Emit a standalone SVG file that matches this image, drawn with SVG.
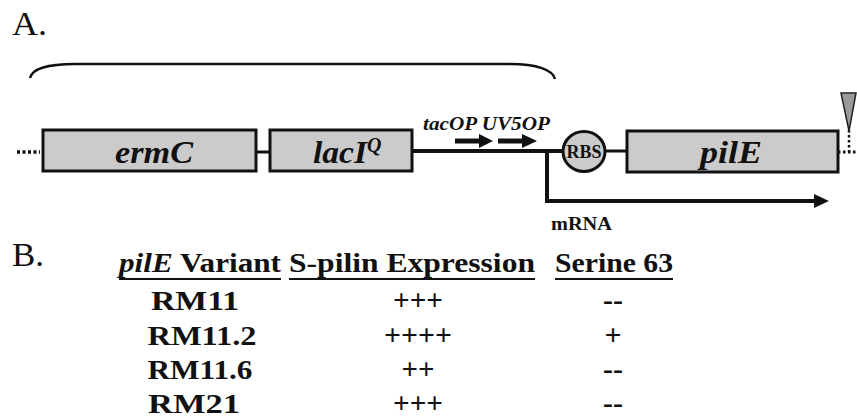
<svg xmlns="http://www.w3.org/2000/svg" width="857" height="418" viewBox="0 0 857 418" font-family="'Liberation Serif', 'Times New Roman', Times, serif">
<style>
text { font-family: "Liberation Serif", "Times New Roman", Times, serif; fill: #111; }
.lbl { font-size: 33px; }
.gene { font-size: 31px; font-weight: bold; font-style: italic; }
.box { fill: #cbcbcb; stroke: #111; stroke-width: 3; }
.wire { stroke: #111; fill: none; }
.hdr { font-size: 27px; font-weight: bold; }
.cell { font-size: 27px; font-weight: bold; text-anchor: middle; }
.pl { font-size: 30px; font-weight: bold; text-anchor: middle; }
.ul { stroke: #111; stroke-width: 2; }
</style>
<rect width="857" height="418" fill="#fff"/>

<text class="lbl" x="12" y="35" textLength="35" lengthAdjust="spacingAndGlyphs">A.</text>

<g id="connectors">
  <path class="wire" stroke-width="2.5" d="M30,78 C32,69 48,64 75,64 L510,64 C537,64 553,70 555,79"/>
  <line class="wire" x1="17" y1="152" x2="40" y2="152" stroke-width="3.5" stroke-dasharray="3,2.5"/>
  <line class="wire" x1="256" y1="152" x2="270" y2="152" stroke-width="3"/>
  <line class="wire" x1="412" y1="151" x2="564" y2="151" stroke-width="4"/>
  <line class="wire" x1="604" y1="151" x2="627" y2="151" stroke-width="3"/>
  <polyline class="wire" points="547,151 547,201 816,201" stroke-width="4"/>
  <polygon points="814,194 829,201 814,208" fill="#111"/>
  <line class="wire" x1="838" y1="152" x2="857" y2="152" stroke-width="3" stroke-dasharray="2.5,2.5"/>
  <line class="wire" x1="849" y1="130" x2="849" y2="152" stroke-width="2.5" stroke-dasharray="2.5,2.5"/>
  <line class="wire" x1="455" y1="141" x2="482" y2="141" stroke-width="5"/>
  <polygon points="479,134 493,141 479,148" fill="#111"/>
  <line class="wire" x1="498" y1="141" x2="525" y2="141" stroke-width="5"/>
  <polygon points="522,134 537,141 522,148" fill="#111"/>
</g>

<g id="ermC">
  <rect class="box" x="43" y="130" width="213" height="41"/>
  <text class="gene" x="154" y="163" text-anchor="middle" textLength="78" lengthAdjust="spacingAndGlyphs">ermC</text>
</g>

<g id="lacIQ">
  <rect class="box" x="270" y="130" width="142" height="41"/>
  <text class="gene" x="313" y="163"><tspan textLength="54" lengthAdjust="spacingAndGlyphs">lacI</tspan><tspan font-size="20" dy="-11">Q</tspan></text>
</g>

<g id="promoters">
  <text x="423" y="130" font-size="18" font-weight="bold" font-style="italic" textLength="127" lengthAdjust="spacingAndGlyphs">tacOP UV5OP</text>
</g>

<g id="RBS">
  <ellipse cx="584" cy="151.5" rx="21" ry="20" fill="#cbcbcb" stroke="#111" stroke-width="3"/>
  <text x="584" y="158" font-size="18" font-weight="bold" text-anchor="middle" textLength="35" lengthAdjust="spacingAndGlyphs">RBS</text>
</g>

<g id="pilE">
  <rect class="box" x="627" y="131" width="211" height="41"/>
  <text class="gene" x="731" y="163" text-anchor="middle" textLength="62" lengthAdjust="spacingAndGlyphs">pilE</text>
</g>

<g id="insertion">
  <polygon points="841,93 856,93 849,131" fill="#9a9a9a" stroke="#222" stroke-width="1.5"/>
</g>

<g id="mRNA">
  <text x="551" y="230" font-size="18" font-weight="bold" textLength="61" lengthAdjust="spacingAndGlyphs">mRNA</text>
</g>

<text class="lbl" x="12" y="266" font-size="29" textLength="32" lengthAdjust="spacingAndGlyphs">B.</text>

<g id="table">
  <text class="hdr" x="119" y="272" textLength="162" lengthAdjust="spacingAndGlyphs"><tspan font-style="italic">pilE</tspan> Variant</text>
  <line class="ul" x1="119" y1="279" x2="281" y2="279"/>
  <text class="hdr" x="289" y="272" textLength="246" lengthAdjust="spacingAndGlyphs">S-pilin Expression</text>
  <line class="ul" x1="289" y1="279" x2="535" y2="279"/>
  <text class="hdr" x="555" y="272" textLength="118" lengthAdjust="spacingAndGlyphs">Serine 63</text>
  <line class="ul" x1="555" y1="279" x2="673" y2="279"/>

  <text class="cell" x="195" y="310" textLength="88" lengthAdjust="spacingAndGlyphs">RM11</text>
  <text class="cell" x="202" y="345" textLength="109" lengthAdjust="spacingAndGlyphs">RM11.2</text>
  <text class="cell" x="200" y="379" textLength="105" lengthAdjust="spacingAndGlyphs">RM11.6</text>
  <text class="cell" x="194" y="413" textLength="92" lengthAdjust="spacingAndGlyphs">RM21</text>

  <text class="pl" x="418" y="310" textLength="50" lengthAdjust="spacingAndGlyphs">+++</text>
  <text class="pl" x="418" y="345" textLength="68" lengthAdjust="spacingAndGlyphs">++++</text>
  <text class="pl" x="418" y="379" textLength="33" lengthAdjust="spacingAndGlyphs">++</text>
  <text class="pl" x="418" y="413" textLength="50" lengthAdjust="spacingAndGlyphs">+++</text>

  <text class="pl" x="613" y="310" textLength="20" lengthAdjust="spacingAndGlyphs">--</text>
  <text class="pl" x="613" y="345" textLength="17" lengthAdjust="spacingAndGlyphs">+</text>
  <text class="pl" x="613" y="379" textLength="20" lengthAdjust="spacingAndGlyphs">--</text>
  <text class="pl" x="613" y="413" textLength="20" lengthAdjust="spacingAndGlyphs">--</text>
</g>
</svg>
